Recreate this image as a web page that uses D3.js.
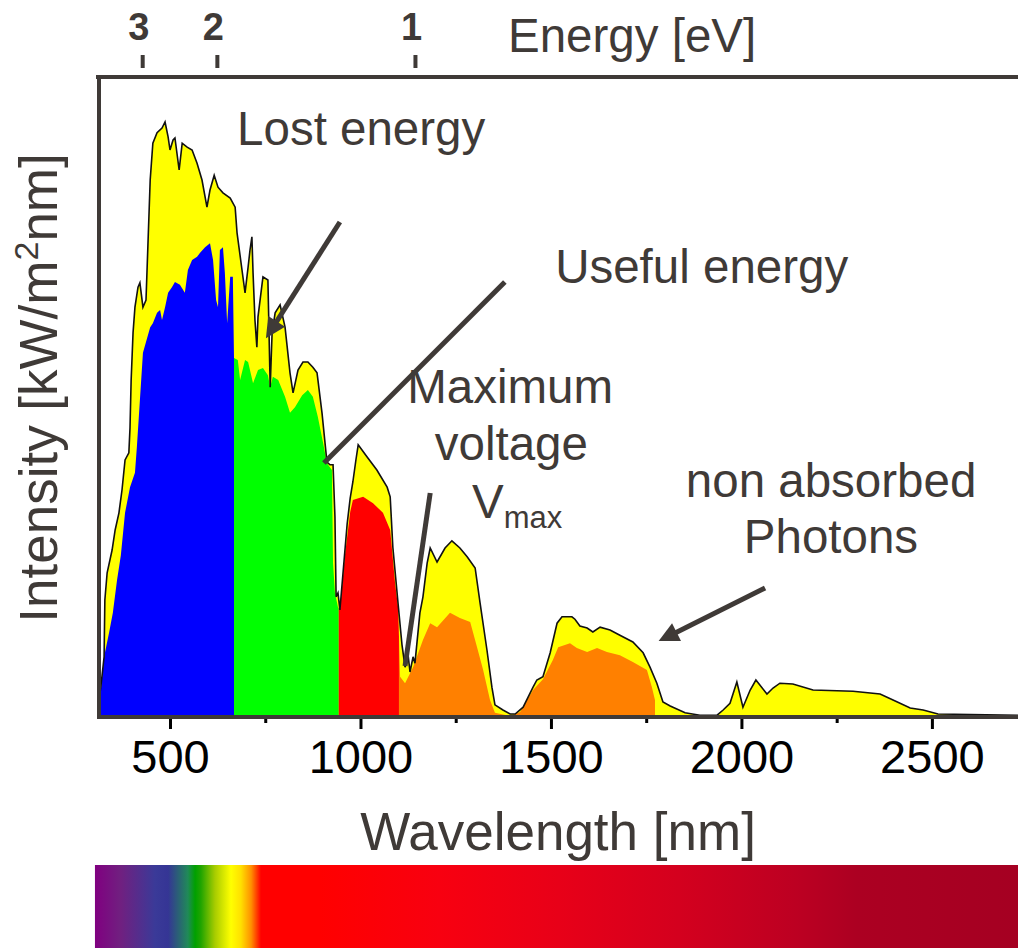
<!DOCTYPE html>
<html>
<head>
<meta charset="utf-8">
<script src="https://cdn.jsdelivr.net/npm/d3@7"></script>
<style>
  html, body { margin: 0; padding: 0; background: #fff; }
  svg { display: block; font-family: "Liberation Sans", Arial, sans-serif; }
</style>
</head>
<body>
<svg id="chart" width="1018" height="948"></svg>
<script>
// Solar spectral irradiance (W/m²/nm) vs wavelength (nm): outer envelope
const totalNm = [311,314,319,327,329,335,348,356,366,374,382,392,395,398,403,408,416,421,429,437,
  448,455,466,479,487,495,500,508,513,524,532,545,558,571,584,597,605,616,626,639,
  658,671,676,689,697,705,710,715,718,723,728,731,744,757,763,768,776,789,802,815,
  823,836,849,862,875,886,899,912,920,928,933,936,941,946,965,973,980,988,994,1017,1043,
  1070,1078,1085,1099,1109,1117,1125,1130,1138,1143,1156,1164,1175,1183,1201,1222,1240,1261,1280,1301,
  1314,1332,1345,1353,1374,1393,1406,1427,1453,1463,1479,1498,1516,1529,1555,1563,1576,1595,1610,1629,
  1655,1681,1715,1742,1760,1778,1794,1813,1852,1891,1936,1952,1970,1988,2004,2023,2038,2067,2083,2101,
  2135,2188,2293,2364,2398,2443,2477,2516,2726];
const totalIrr = [0,0.04,0.078,0.148,0.29,0.358,0.415,0.465,0.508,0.565,0.64,0.658,0.72,0.84,0.958,1.022,1.072,1.083,1.022,1.04,
  1.34,1.432,1.458,1.47,1.485,1.448,1.415,1.44,1.445,1.365,1.432,1.422,1.415,1.382,1.34,1.272,1.315,1.352,1.322,1.308,
  1.295,1.272,1.208,1.115,1.058,1.122,1.165,1.198,1.108,0.99,0.922,0.998,1.098,1.09,0.822,0.958,1.008,1.028,0.972,0.858,
  0.808,0.865,0.885,0.885,0.872,0.858,0.758,0.635,0.628,0.628,0.498,0.298,0.308,0.265,0.48,0.545,0.585,0.64,0.678,0.648,0.615,
  0.572,0.548,0.422,0.278,0.178,0.122,0.152,0.11,0.148,0.132,0.258,0.298,0.382,0.42,0.385,0.42,0.438,0.42,0.398,0.37,
  0.282,0.165,0.072,0.028,0.015,0.005,0.005,0.022,0.072,0.09,0.098,0.158,0.232,0.248,0.248,0.242,0.225,0.22,0.21,0.222,
  0.215,0.202,0.185,0.158,0.122,0.082,0.035,0.025,0.008,0.002,0.002,0.015,0.032,0.085,0.022,0.065,0.09,0.055,0.07,0.082,
  0.08,0.065,0.062,0.055,0.04,0.02,0.015,0.005,0.002];

// Portion of the irradiance converted into useful energy by the cell stack
const usefulNm = [311,316,327,340,350,361,371,382,395,408,413,421,429,448,455,466,474,479,487,495,
  505,513,526,539,547,558,571,579,592,605,613,621,626,631,639,644,650,658,665,668,
  678,684,697,705,718,731,744,757,763,770,784,802,815,828,847,862,875,888,902,912,
  925,928,933,941,946,959,973,980,1007,1033,1059,1078,1091,1099,1104,1117,1138,1164,1183,1201,
  1235,1261,1288,1306,1322,1340,1353,1393,1419,1453,1479,1505,1519,1550,1568,1595,1621,1647,1681,1715,
  1752,1765,1773,1778,2726];
const usefulIrr = [0,0.04,0.148,0.208,0.258,0.34,0.402,0.508,0.572,0.608,0.672,0.79,0.908,0.972,0.982,1.008,1.015,0.99,1.022,1.058,
  1.072,1.085,1.078,1.058,1.115,1.14,1.148,1.158,1.172,1.182,1.14,1.04,1.022,1.165,1.172,1.108,0.982,1.098,1.098,0.895,
  0.89,0.84,0.89,0.885,0.832,0.865,0.87,0.852,0.822,0.848,0.84,0.798,0.758,0.772,0.802,0.815,0.798,0.748,0.682,0.632,
  0.615,0.382,0.308,0.272,0.265,0.40,0.51,0.54,0.548,0.532,0.508,0.465,0.33,0.27,0.098,0.082,0.122,0.19,0.232,0.222,
  0.258,0.245,0.235,0.172,0.115,0.04,0.008,0,0.01,0.065,0.092,0.14,0.172,0.182,0.17,0.16,0.17,0.16,0.152,0.135,
  0.115,0.072,0.04,0,0];

// Absorption bands of the sub-cells
const bandStartNm = [311, 668, 943, 1101];
const bandEndNm   = [668, 943, 1101, 1773];
const bandColors  = ["#0000ff", "#00ff00", "#ff0000", "#ff8000"];

// Axis ticks
const wavelengthTicks = [500, 1000, 1500, 2000, 2500];
const wavelengthMinorTicks = [750, 1250, 1750, 2250];
const energyLabels = ["3", "2", "1"];
const energyTickNm = [427, 623, 1143];

// Colour strip of the spectrum
const stripNm = [303,371,461,495,547,566,581,618,660,686,713,739,891,1206,1519,1834,2148,2303,2726];
const stripColors = ["#800080","#702080","#3a3a98","#353595","#208a58","#00a000","#20a400","#a8cc00","#ffff00","#ffe000",
  "#ff9000","#ff0000","#ff0000","#f80010","#e80018","#d4001e","#bc0022","#ac0022","#a50022"];

const ink = "#3f3a37";
const svg = d3.select("#chart");

const x = d3.scaleLinear().domain([311, 2726]).range([98, 1018]);
const y = d3.scaleLinear().domain([0, 1.6]).range([716, 76]);

const total = d3.zip(totalNm, totalIrr);
const useful = d3.zip(usefulNm, usefulIrr);

const defs = svg.append("defs");

// Outer envelope (lost energy + non absorbed photons)
const area = d3.area().x(d => x(d[0])).y0(y(0)).y1(d => y(d[1]));
svg.append("path").datum(total).attr("d", area).attr("fill", "#ffff00");

// Useful part, coloured per band
bandColors.forEach((c, i) => {
  defs.append("clipPath").attr("id", "band" + i)
    .append("rect")
    .attr("x", x(bandStartNm[i])).attr("width", x(bandEndNm[i]) - x(bandStartNm[i]))
    .attr("y", 0).attr("height", 948);
  svg.append("path").datum(useful).attr("d", area)
    .attr("fill", c).attr("clip-path", `url(#band${i})`);
});

// Envelope outline
svg.append("path").datum(total)
  .attr("d", d3.line().x(d => x(d[0])).y(d => y(d[1])))
  .attr("fill", "none").attr("stroke", "#111").attr("stroke-width", 1.6);

// Frame
svg.append("line").attr("x1", 96).attr("x2", 1018).attr("y1", 77).attr("y2", 77)
  .attr("stroke", ink).attr("stroke-width", 4);
svg.append("line").attr("x1", 99).attr("x2", 99).attr("y1", 75).attr("y2", 719)
  .attr("stroke", ink).attr("stroke-width", 4);
svg.append("line").attr("x1", 97).attr("x2", 1018).attr("y1", 717).attr("y2", 717)
  .attr("stroke", ink).attr("stroke-width", 4);

// Bottom wavelength axis
const bottomAxis = svg.append("g").attr("transform", "translate(0,719)")
  .call(d3.axisBottom(x).tickValues(wavelengthTicks).tickSize(10).tickFormat(d3.format("d")));
bottomAxis.select(".domain").remove();
bottomAxis.selectAll(".tick line").attr("stroke", "#000").attr("stroke-width", 3);
bottomAxis.selectAll(".tick text").attr("dy", null).attr("y", 54)
  .attr("fill", "#000").style("font-size", "47px").style("font-family", "'Liberation Sans', Arial, sans-serif");
const minorAxis = svg.append("g").attr("transform", "translate(0,719)")
  .call(d3.axisBottom(x).tickValues(wavelengthMinorTicks).tickSize(4).tickFormat(""));
minorAxis.select(".domain").remove();
minorAxis.selectAll(".tick line").attr("stroke", "#000").attr("stroke-width", 3);

// Top energy axis
const energyAxis = svg.append("g").attr("transform", "translate(0,68)")
  .call(d3.axisTop(x).tickValues(energyTickNm).tickSize(13).tickFormat((d, i) => energyLabels[i]));
energyAxis.select(".domain").remove();
energyAxis.selectAll(".tick line").attr("stroke", ink).attr("stroke-width", 4);
energyAxis.selectAll(".tick text").attr("dy", null).attr("y", -28).attr("dx", -4)
  .attr("fill", ink).style("font-size", "38px").style("font-weight", "bold")
  .style("font-family", "'Liberation Sans', Arial, sans-serif");

svg.append("text").attr("x", 508).attr("y", 52).attr("fill", ink)
  .style("font-size", "47.5px").text("Energy [eV]");

// Axis titles
svg.append("text").attr("x", 558).attr("y", 850).attr("text-anchor", "middle")
  .attr("fill", ink).style("font-size", "53px").text("Wavelength [nm]");
const yTitle = svg.append("text").attr("transform", "translate(57,388) rotate(-90)")
  .attr("text-anchor", "middle").attr("fill", ink).style("font-size", "53px");
yTitle.append("tspan").text("Intensity [kW/m");
yTitle.append("tspan").attr("dy", -19).style("font-size", "34px").text("2");
yTitle.append("tspan").attr("dy", 19).text("nm]");

// Annotations (placed in data coordinates)
const marker = defs.append("marker").attr("id", "head")
  .attr("viewBox", "0 0 10 10").attr("refX", 5).attr("refY", 5)
  .attr("markerUnits", "userSpaceOnUse").attr("markerWidth", 24).attr("markerHeight", 20)
  .attr("orient", "auto");
marker.append("path").attr("d", "M0,0 L10,5 L0,10 z").attr("fill", ink);

function pointer(from, to, head) {
  let [x1, y1, x2, y2] = [x(from[0]), y(from[1]), x(to[0]), y(to[1])];
  if (head) {
    const len = Math.hypot(x2 - x1, y2 - y1);
    x2 -= (x2 - x1) / len * 12;
    y2 -= (y2 - y1) / len * 12;
  }
  const l = svg.append("line").attr("x1", x1).attr("y1", y1).attr("x2", x2).attr("y2", y2)
    .attr("stroke", ink).attr("stroke-width", 5);
  if (head) l.attr("marker-end", "url(#head)");
}

function label(txt, at, anchor) {
  return svg.append("text").attr("x", x(at[0])).attr("y", y(at[1]))
    .attr("text-anchor", anchor || "start").attr("fill", ink)
    .style("font-size", "47.5px").text(txt);
}

label("Lost energy", [676, 1.4275]);
pointer([946, 1.235], [749, 0.94], true);

label("Useful energy", [1511, 1.0825]);
pointer([1379, 1.085], [904, 0.6325], false);

label("Maximum", [1393, 0.7825], "middle");
label("voltage", [1396, 0.64], "middle");
const vm = label("V", [1293, 0.495]);
vm.append("tspan").attr("dy", 10).style("font-size", "31px").text("max");
pointer([1183, 0.5575], [1117, 0.125], false);

label("non absorbed", [1854, 0.5475]);
label("Photons", [2235, 0.4075], "middle");
pointer([2062, 0.32], [1778, 0.185], true);

// Colour strip
const grad = defs.append("linearGradient").attr("id", "strip")
  .attr("gradientUnits", "userSpaceOnUse")
  .attr("x1", x(stripNm[0])).attr("x2", x(stripNm[stripNm.length - 1])).attr("y1", 0).attr("y2", 0);
const span = stripNm[stripNm.length - 1] - stripNm[0];
stripNm.forEach((nm, i) => {
  grad.append("stop").attr("offset", (nm - stripNm[0]) / span).attr("stop-color", stripColors[i]);
});
svg.append("rect").attr("x", x(stripNm[0])).attr("y", 865)
  .attr("width", x(stripNm[stripNm.length - 1]) - x(stripNm[0])).attr("height", 83)
  .attr("fill", "url(#strip)");
</script>
</body>
</html>
